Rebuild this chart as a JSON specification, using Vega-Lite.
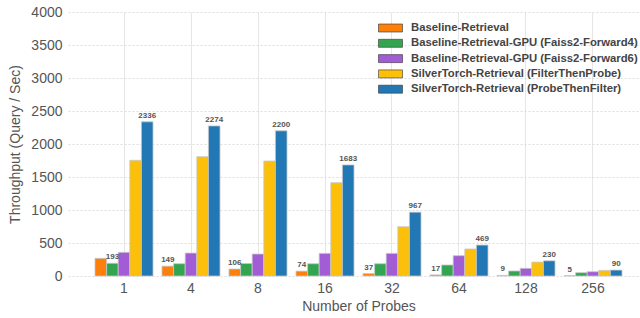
{
  "$schema": "https://vega.github.io/schema/vega-lite/v6.json",
  "autosize": "none",
  "width": 581,
  "height": 264,
  "padding": {"left": 68, "top": 12, "right": 0, "bottom": 42},
  "background": "white",
  "config": {
    "font": "Liberation Sans",
    "view": {"stroke": null}
  },
  "datasets": {
    "bars": [
      {"probe": "1", "series": "Baseline-Retrieval", "value": 268},
      {"probe": "1", "series": "Baseline-Retrieval-GPU (Faiss2-Forward4)", "value": 193},
      {"probe": "1", "series": "Baseline-Retrieval-GPU (Faiss2-Forward6)", "value": 359},
      {"probe": "1", "series": "SilverTorch-Retrieval (FilterThenProbe)", "value": 1753},
      {"probe": "1", "series": "SilverTorch-Retrieval (ProbeThenFilter)", "value": 2336},
      {"probe": "4", "series": "Baseline-Retrieval", "value": 149},
      {"probe": "4", "series": "Baseline-Retrieval-GPU (Faiss2-Forward4)", "value": 186},
      {"probe": "4", "series": "Baseline-Retrieval-GPU (Faiss2-Forward6)", "value": 348},
      {"probe": "4", "series": "SilverTorch-Retrieval (FilterThenProbe)", "value": 1808},
      {"probe": "4", "series": "SilverTorch-Retrieval (ProbeThenFilter)", "value": 2274},
      {"probe": "8", "series": "Baseline-Retrieval", "value": 106},
      {"probe": "8", "series": "Baseline-Retrieval-GPU (Faiss2-Forward4)", "value": 190},
      {"probe": "8", "series": "Baseline-Retrieval-GPU (Faiss2-Forward6)", "value": 333},
      {"probe": "8", "series": "SilverTorch-Retrieval (FilterThenProbe)", "value": 1742},
      {"probe": "8", "series": "SilverTorch-Retrieval (ProbeThenFilter)", "value": 2200},
      {"probe": "16", "series": "Baseline-Retrieval", "value": 74},
      {"probe": "16", "series": "Baseline-Retrieval-GPU (Faiss2-Forward4)", "value": 186},
      {"probe": "16", "series": "Baseline-Retrieval-GPU (Faiss2-Forward6)", "value": 343},
      {"probe": "16", "series": "SilverTorch-Retrieval (FilterThenProbe)", "value": 1414},
      {"probe": "16", "series": "SilverTorch-Retrieval (ProbeThenFilter)", "value": 1683},
      {"probe": "32", "series": "Baseline-Retrieval", "value": 37},
      {"probe": "32", "series": "Baseline-Retrieval-GPU (Faiss2-Forward4)", "value": 186},
      {"probe": "32", "series": "Baseline-Retrieval-GPU (Faiss2-Forward6)", "value": 343},
      {"probe": "32", "series": "SilverTorch-Retrieval (FilterThenProbe)", "value": 747},
      {"probe": "32", "series": "SilverTorch-Retrieval (ProbeThenFilter)", "value": 967},
      {"probe": "64", "series": "Baseline-Retrieval", "value": 17},
      {"probe": "64", "series": "Baseline-Retrieval-GPU (Faiss2-Forward4)", "value": 167},
      {"probe": "64", "series": "Baseline-Retrieval-GPU (Faiss2-Forward6)", "value": 308},
      {"probe": "64", "series": "SilverTorch-Retrieval (FilterThenProbe)", "value": 409},
      {"probe": "64", "series": "SilverTorch-Retrieval (ProbeThenFilter)", "value": 469},
      {"probe": "128", "series": "Baseline-Retrieval", "value": 9},
      {"probe": "128", "series": "Baseline-Retrieval-GPU (Faiss2-Forward4)", "value": 76},
      {"probe": "128", "series": "Baseline-Retrieval-GPU (Faiss2-Forward6)", "value": 116},
      {"probe": "128", "series": "SilverTorch-Retrieval (FilterThenProbe)", "value": 210},
      {"probe": "128", "series": "SilverTorch-Retrieval (ProbeThenFilter)", "value": 230},
      {"probe": "256", "series": "Baseline-Retrieval", "value": 5},
      {"probe": "256", "series": "Baseline-Retrieval-GPU (Faiss2-Forward4)", "value": 50},
      {"probe": "256", "series": "Baseline-Retrieval-GPU (Faiss2-Forward6)", "value": 65},
      {"probe": "256", "series": "SilverTorch-Retrieval (FilterThenProbe)", "value": 85},
      {"probe": "256", "series": "SilverTorch-Retrieval (ProbeThenFilter)", "value": 90}
    ],
    "labels": [
      {"probe": "1", "series": "Baseline-Retrieval-GPU (Faiss2-Forward4)", "value": 193},
      {"probe": "4", "series": "Baseline-Retrieval", "value": 149},
      {"probe": "8", "series": "Baseline-Retrieval", "value": 106},
      {"probe": "16", "series": "Baseline-Retrieval", "value": 74},
      {"probe": "32", "series": "Baseline-Retrieval", "value": 37},
      {"probe": "64", "series": "Baseline-Retrieval", "value": 17},
      {"probe": "128", "series": "Baseline-Retrieval", "value": 9},
      {"probe": "256", "series": "Baseline-Retrieval", "value": 5},
      {"probe": "1", "series": "SilverTorch-Retrieval (ProbeThenFilter)", "value": 2336},
      {"probe": "4", "series": "SilverTorch-Retrieval (ProbeThenFilter)", "value": 2274},
      {"probe": "8", "series": "SilverTorch-Retrieval (ProbeThenFilter)", "value": 2200},
      {"probe": "16", "series": "SilverTorch-Retrieval (ProbeThenFilter)", "value": 1683},
      {"probe": "32", "series": "SilverTorch-Retrieval (ProbeThenFilter)", "value": 967},
      {"probe": "64", "series": "SilverTorch-Retrieval (ProbeThenFilter)", "value": 469},
      {"probe": "128", "series": "SilverTorch-Retrieval (ProbeThenFilter)", "value": 230},
      {"probe": "256", "series": "SilverTorch-Retrieval (ProbeThenFilter)", "value": 90}
    ]
  },
  "encoding": {
    "x": {
      "field": "probe",
      "type": "nominal",
      "sort": ["1", "4", "8", "16", "32", "64", "128", "256"],
      "scale": {"paddingInner": 0.134, "paddingOuter": 0.403},
      "axis": {
        "title": "Number of Probes",
        "titleFontSize": 14,
        "titleFontWeight": "normal",
        "titleColor": "#555555",
        "titlePadding": 4,
        "labelFontSize": 14,
        "labelColor": "#555555",
        "labelAngle": 0,
        "labelPadding": 5,
        "ticks": false,
        "domain": false,
        "grid": true,
        "bandPosition": 0.5,
        "gridColor": "#e6e6e6",
        "gridWidth": 1
      }
    },
    "xOffset": {
      "field": "series",
      "type": "nominal",
      "scale": {"domain": [
        "Baseline-Retrieval",
        "Baseline-Retrieval-GPU (Faiss2-Forward4)",
        "Baseline-Retrieval-GPU (Faiss2-Forward6)",
        "SilverTorch-Retrieval (FilterThenProbe)",
        "SilverTorch-Retrieval (ProbeThenFilter)"
      ], "paddingInner": 0, "paddingOuter": 0}
    },
    "y": {
      "field": "value",
      "type": "quantitative",
      "scale": {"domain": [0, 4000], "nice": false},
      "axis": {
        "title": "Throughput (Query / Sec)",
        "titleFontSize": 14,
        "titleFontWeight": "normal",
        "titleColor": "#555555",
        "titlePadding": 8,
        "values": [0, 500, 1000, 1500, 2000, 2500, 3000, 3500, 4000],
        "format": "d",
        "labelFontSize": 14,
        "labelColor": "#555555",
        "labelPadding": 6,
        "ticks": false,
        "domain": false,
        "grid": true,
        "gridDash": [2, 2],
        "gridColor": "#dddddd"
      }
    }
  },
  "layer": [
    {
      "data": {"name": "bars"},
      "mark": {"type": "bar", "stroke": "#c8c8c8", "strokeWidth": 0.8},
      "encoding": {
        "color": {
          "field": "series",
          "type": "nominal",
          "scale": {
            "domain": [
              "Baseline-Retrieval",
              "Baseline-Retrieval-GPU (Faiss2-Forward4)",
              "Baseline-Retrieval-GPU (Faiss2-Forward6)",
              "SilverTorch-Retrieval (FilterThenProbe)",
              "SilverTorch-Retrieval (ProbeThenFilter)"
            ],
            "range": ["#fd7f0c", "#33a550", "#a25cd6", "#fcc00b", "#2178b5"]
          },
          "legend": {
            "title": null,
            "orient": "none",
            "legendX": 314,
            "legendY": 7.5,
            "padding": 0,
            "labelFont": "Liberation Sans",
            "labelFontSize": 11.3,
            "labelFontWeight": "bold",
            "labelColor": "#444444",
            "labelOffset": 12,
            "labelLimit": 400,
            "rowPadding": 1.3,
            "symbolType": "M-1.5,-0.5H1.5V0.5H-1.5Z",
            "symbolSize": 256,
            "symbolStrokeColor": "#333333",
            "symbolStrokeWidth": 0.6,
            "symbolOpacity": 1
          }
        }
      }
    },
    {
      "data": {"name": "labels"},
      "mark": {"type": "text", "baseline": "bottom", "dy": -2, "fontSize": 8, "fontWeight": "bold", "color": "#555555"},
      "encoding": {
        "text": {"field": "value", "type": "quantitative"}
      }
    }
  ]
}
